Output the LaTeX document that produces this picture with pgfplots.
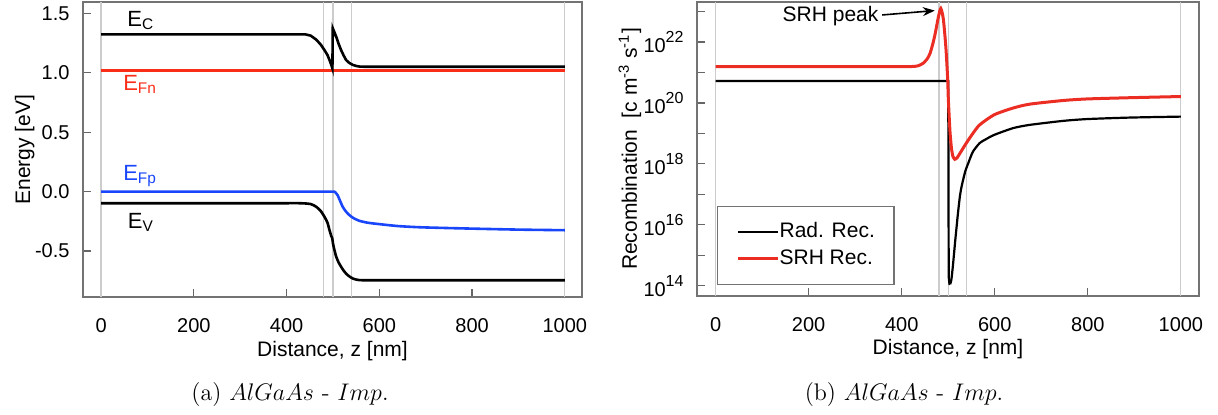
\documentclass[border=0pt]{standalone}
\usepackage{pgfplots}
\pgfplotsset{compat=1.18}
\usepackage{fontspec}
\newfontfamily\arialf{Liberation Sans}
\usetikzlibrary{arrows.meta}
\definecolor{efnred}{RGB}{250,45,25}
\definecolor{srhred}{RGB}{235,45,35}
\definecolor{efpblue}{RGB}{25,70,250}
\newcommand{\tp}[1]{10\raisebox{5pt}{\fontsize{8}{9}\selectfont #1}}
\begin{document}
\begin{tikzpicture}
\useasboundingbox (0,0) rectangle (609pt,207pt);
\pgfplotsset{
  mystyle/.style={
    scale only axis,
    axis line style={draw=black!55, line width=0.6pt},
    tick style={draw=black!60, line width=0.6pt},
    major tick length=4pt, minor tick length=4pt,
    tick align=inside,
    xtick pos=left, ytick pos=left,
    xtick={0,200,400,600,800,1000},
    xticklabels={0,200,400,600,800,1000},
    extra x ticks={0,480,500,540,1000},
    extra x tick labels={},
    extra x tick style={grid=major, major tick length=0pt,
      major grid style={draw=black!20, line width=0.6pt}},
    xticklabel style={font=\arialf\fontsize{10}{12}\selectfont, anchor=base, yshift=-17.5pt},
    yticklabel style={font=\arialf\fontsize{10}{12}\selectfont, anchor=east, xshift=-3.2pt},
    label style={font=\arialf\fontsize{10.5}{12}\selectfont},
    xlabel={Distance, z [nm]},
    xlabel style={at={(axis description cs:0.5,-0.2)}, anchor=base},
  }
}
% ---------------- left panel ----------------
\begin{axis}[mystyle,
  at={(41.5pt,58.5pt)}, anchor=south west,
  width=249.5pt, height=147.5pt,
  xmin=-39, xmax=1037, ymin=-0.887, ymax=1.595,
  ytick={-0.5,0,0.5,1,1.5},
  yticklabels={-0.5,0.0,0.5,1.0,1.5},
  ylabel={Energy [eV]},
  ylabel style={at={(axis description cs:-0.1062,0.5)}, anchor=base},
]
\addplot[efnred, line width=1.3pt] coordinates {(0,1.017) (1000,1.017)};
\addplot[black, line width=1.3pt] coordinates {
(0,1.323) (440,1.323) (452,1.312) (464,1.278) (474,1.235) (481.7,1.19)
(488,1.15) (492.5,1.107) (496,1.07) (498.8,1.036) (499.6,1.374) (503,1.342)
(507,1.303) (512,1.245) (517.6,1.19) (523,1.145) (528.3,1.107) (535,1.083)
(542.6,1.066) (550,1.057) (557,1.052) (570,1.05) (1000,1.05)};
\addplot[efpblue, line width=1.3pt, smooth, tension=0.4] coordinates {
(0,0) (300,0) (420,0) (470,0) (490,0) (498,0) (503,0) (506,-0.01) (510,-0.03)
(515,-0.075) (521,-0.128) (528,-0.168) (535.5,-0.198) (545,-0.225) (557,-0.246)
(575,-0.262) (600,-0.274) (640,-0.29) (686,-0.30) (750,-0.307) (815,-0.313)
(900,-0.32) (1000,-0.325)};
\addplot[black, line width=1.3pt, smooth, tension=0.4] coordinates {
(0,-0.098) (250,-0.098) (380,-0.098) (430,-0.098) (452,-0.105) (464,-0.128)
(474,-0.165) (481.7,-0.212) (488,-0.26) (492.5,-0.324) (496,-0.37) (498.5,-0.394)
(500,-0.436) (503,-0.49) (507,-0.548) (512,-0.595) (517.6,-0.633) (523,-0.665)
(528,-0.689) (535,-0.713) (542.6,-0.731) (550,-0.74) (557,-0.745) (570,-0.746)
(600,-0.746) (700,-0.746) (1000,-0.746)};
\node[anchor=base west, inner sep=0pt, font=\arialf\fontsize{11}{12}\selectfont] at (axis cs:56,1.393) {E\textsubscript{C}};
\node[anchor=base west, inner sep=0pt, text=efnred, font=\arialf\fontsize{11}{12}\selectfont] at (axis cs:47,0.849) {E\textsubscript{Fn}};
\node[anchor=base west, inner sep=0pt, text=efpblue, font=\arialf\fontsize{11}{12}\selectfont] at (axis cs:47,0.097) {E\textsubscript{Fp}};
\node[anchor=base west, inner sep=0pt, font=\arialf\fontsize{11}{12}\selectfont] at (axis cs:57,-0.31) {E\textsubscript{V}};
\end{axis}
% ---------------- right panel ----------------
\begin{axis}[mystyle,
  at={(348.5pt,59pt)}, anchor=south west,
  width=251pt, height=147pt,
  xmin=-40, xmax=1039, ymode=log, ymin=4.6e13, ymax=2.05e23,
  ytick={1e14,1e16,1e18,1e20,1e22},
  yticklabels={\tp{14},\tp{16},\tp{18},\tp{20},\tp{22}},
  minor ytick={1e15,1e17,1e19,1e21,1e23},
  ylabel={Recombination\ \ [c m\textsuperscript{-3} s\textsuperscript{-1}]},
  ylabel style={at={(axis description cs:-0.120,0.5)}, anchor=base},
  legend style={at={(axis description cs:0.0398,0.0374)}, anchor=south west,
    draw=black!55, line width=0.6pt, fill=white,
    font=\arialf\fontsize{10.5}{12}\selectfont,
    inner xsep=9.5pt, inner ysep=7.5pt, row sep=3pt,
    nodes={inner sep=0pt, text height=8pt, text depth=2.5pt},
    /tikz/every even column/.append style={column sep=14pt}},
  legend cell align=left,
  legend image code/.code={\draw[#1] (0pt,0pt) -- (20pt,0pt);},
]
\addplot[black, line width=1.1pt] coordinates {
(0,5.25e20) (500,5.25e20) (501,2e14) (502.5,1.15e14) (504,1.12e14)};
\addlegendentry{Rad. Rec.}
\addplot[srhred, line width=1.5pt, smooth, tension=0.4] coordinates {
(0,1.55e21) (250,1.55e21) (370,1.55e21) (420,1.56e21) (435,1.65e21) (446,2.0e21)
(455,2.82e21) (461,4.27e21) (467,8.9e21) (472,1.9e22) (479,6.76e22) (484,1.26e23)
(489.5,5.6e22) (495,6.3e21) (498.7,6.3e20) (500,1.58e20) (502,3.55e19) (504,1e19)
(507,3.16e18) (510,1.78e18) (514,1.41e18) (519,1.58e18) (524.5,2.14e18)
(538.8,4.79e18) (553,1e19) (567.5,1.9e19) (598.6,4.07e19) (639,6.76e19)
(675,9.1e19) (747,1.2e20) (799,1.35e20) (890,1.48e20) (1000,1.62e20)};
\addlegendentry{SRH Rec.}
\addplot[black, line width=1.1pt, smooth, tension=0.4, forget plot] coordinates {
(504,1.12e14) (506,1.4e14) (507.6,2e14) (510,4.5e14) (512.6,1.2e15) (515,3e15)
(518,8.7e15) (521,2.5e16) (525,8.5e16) (528,1.6e17) (532,3.0e17) (537,6.0e17)
(543,1.05e18) (553,2.5e18) (567.5,4.8e18) (580,6.3e18) (598.6,8.9e18)
(639,1.48e19) (675,1.9e19) (747,2.57e19) (799,2.95e19) (890,3.3e19) (1000,3.55e19)};
\node[anchor=base, inner sep=0pt, font=\arialf\fontsize{10.5}{12}\selectfont] at (axis cs:247,4.68e22) {SRH peak};
\draw[-{Stealth[length=6pt,width=4.5pt]}, line width=0.8pt] (axis cs:358,7.7e22) -- (axis cs:471,1.07e23);
\end{axis}
% ---------------- captions ----------------
\node[anchor=base, inner sep=0pt, font=\fontsize{12}{14}\selectfont] at (145pt,7pt) {(a) $AlGaAs$ - $Imp.$};
\node[anchor=base, inner sep=0pt, font=\fontsize{12}{14}\selectfont] at (452pt,7pt) {(b) $AlGaAs$ - $Imp.$};
\end{tikzpicture}
\end{document}
